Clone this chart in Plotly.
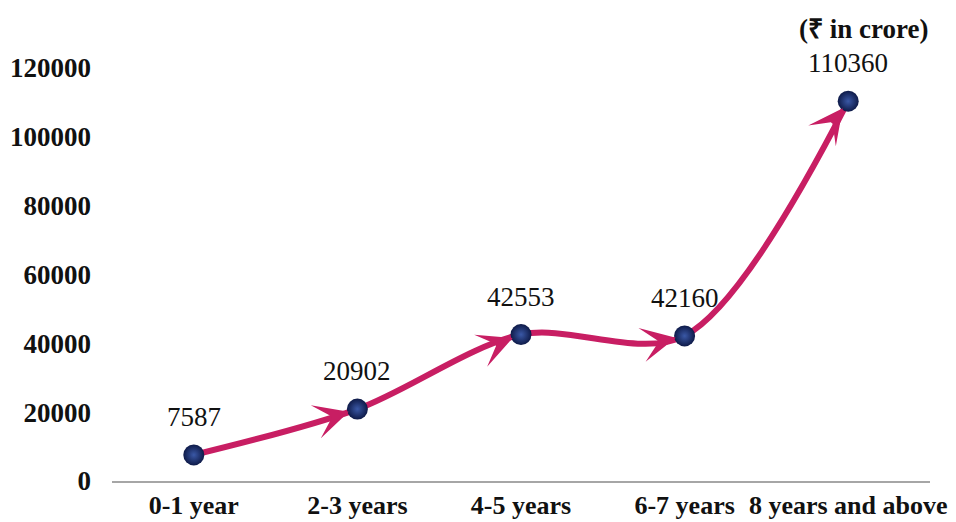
import math
import plotly.graph_objects as go

# -----------------------------------
# Data
# -----------------------------------

categories = ["0-1 year", "2-3 years", "4-5 years", "6-7 years", "8 years and above"]
values = [7587, 20902, 42553, 42160, 110360]
labels = ["7587", "20902", "42553", "42160", "110360"]
tick_vals = [0, 20000, 40000, 60000, 80000, 100000, 120000]

# direction the curve travels when it reaches each point (deg above horizontal)
arrow_dirs = [None, 17, 22, 12, 53]

LINE = "#C81E63"
SERIF = "Liberation Serif, Times New Roman, serif"

fig = go.Figure()

# -----------------------------------
# Curve
# -----------------------------------

fig.add_trace(go.Scatter(
    x=categories,
    y=values,
    mode="lines",
    line=dict(color=LINE, width=6, shape="spline", smoothing=0.9),
    hoverinfo="skip",
))

# -----------------------------------
# Arrow heads (stealth style) ending at each point
# -----------------------------------

for cat, val, d in zip(categories, values, arrow_dirs):
    if d is None:
        continue
    tail = 28
    fig.add_annotation(
        x=cat, y=val,
        ax=-tail * math.cos(math.radians(d)),
        ay=tail * math.sin(math.radians(d)),
        showarrow=True,
        arrowhead=3,
        arrowwidth=5,
        arrowsize=1.15,
        arrowcolor=LINE,
        standoff=9,
        text="",
    )

# -----------------------------------
# Spheres (lighter centre, dark rim)
# -----------------------------------

fig.add_trace(go.Scatter(
    x=categories,
    y=values,
    mode="markers",
    marker=dict(
        size=21,
        color="#0E1A48",
        gradient=dict(type="radial", color="#3A58A6"),
        line=dict(width=0),
    ),
    hoverinfo="skip",
))

# -----------------------------------
# Value labels
# -----------------------------------

for cat, val, lab in zip(categories, values, labels):
    fig.add_annotation(
        x=cat, y=val,
        text=lab,
        showarrow=False,
        yanchor="bottom",
        yshift=21,
        font=dict(family=SERIF, size=27, color="#111111"),
    )

# page body adds an 8px offset, margins compensate for it
fig.update_layout(
    width=956,
    height=522,
    margin=dict(l=104, r=34, t=60, b=49),
    plot_bgcolor="white",
    paper_bgcolor="white",
    showlegend=False,
    font=dict(family=SERIF, size=22, color="#111111"),
)

fig.update_xaxes(
    showgrid=False,
    showline=True,
    linecolor="#A6A6A6",
    linewidth=2,
    ticks="",
    automargin=False,
    ticklabelstandoff=0,
    tickfont=dict(family=SERIF, size=26, weight="bold"),
    range=[-0.5, 4.5],
)

fig.update_yaxes(
    range=[0, 120000],
    tickvals=tick_vals,
    ticktext=[str(v) for v in tick_vals],
    showgrid=False,
    zeroline=False,
    showline=False,
    ticks="",
    automargin=False,
    ticklabelstandoff=20,
    tickfont=dict(family=SERIF, size=27, weight="bold"),
)

fig.add_annotation(
    text="(₹ in crore)",
    xref="paper", yref="paper",
    x=1.0, y=1.0,
    xanchor="right", yanchor="bottom",
    yshift=22,
    showarrow=False,
    font=dict(family=SERIF, size=27, weight="bold", color="#111111"),
)

fig.write_html("out.html")
